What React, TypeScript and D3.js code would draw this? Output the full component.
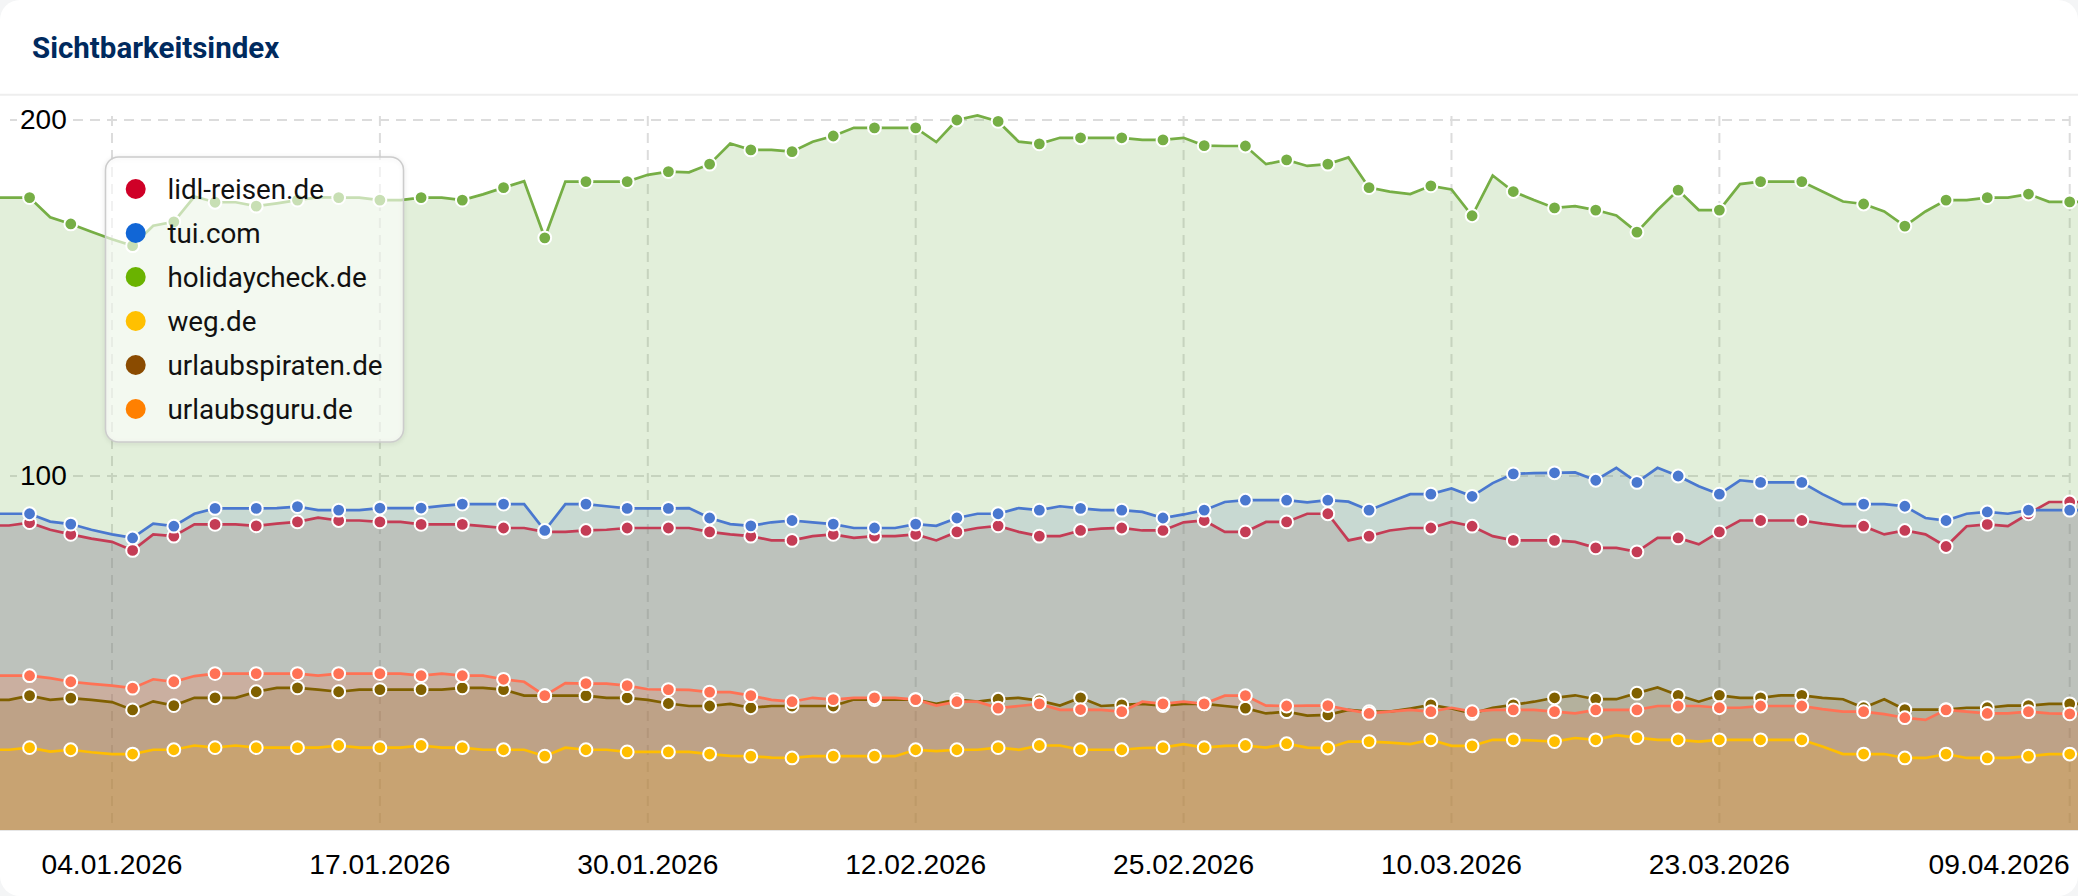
import React, { useRef, useEffect } from "react";
import * as d3 from "d3";

const WIDTH = 2078;
const HEIGHT = 896;

// one value per day, 29.12.2025 to 10.04.2026
const holidaycheck = [
  178.2, 178.2, 178.2, 172.7, 170.8, 168.6, 166.5, 164.7, 170.3, 171.4, 178.5, 176.9, 176.9, 175.8, 176.6, 177.5, 178.3,
  178.2, 178.2, 177.5, 177.5, 178.2, 178.2, 177.5, 179.1, 181, 182.8, 166.9, 182.7, 182.7, 182.7, 182.7, 184.6, 185.5,
  185.3, 187.6, 193.4, 191.6, 191.6, 191.1, 193.9, 195.5, 197.8, 197.8, 197.8, 197.8, 193.8, 200, 201.3, 199.6, 193.9,
  193.3, 195, 195, 195, 195, 194.4, 194.4, 195, 192.8, 192.7, 192.7, 187.6, 188.8, 187.1, 187.6, 189.5, 181, 179.9,
  179.2, 181.5, 180.5, 173.1, 184.4, 179.9, 177.5, 175.3, 175.8, 174.7, 173.2, 168.5, 174.7, 180.3, 174.7, 174.7, 182,
  182.7, 182.7, 182.7, 179.9, 177.1, 176.4, 174.3, 170.2, 174.3, 177.5, 177.5, 178.2, 178.2, 179.2, 177, 177, 177,
];
const tui = [
  89.4, 89.4, 89.4, 87.2, 86.5, 84.9, 83.6, 82.6, 86.6, 85.9, 89.4, 90.9, 90.9, 90.9, 91, 91.4, 90.4, 90.4, 90.4, 91,
  91, 91, 91.6, 92.1, 92.1, 92.1, 92.1, 84.7, 92.1, 92.1, 91.5, 90.9, 90.9, 90.9, 91, 88.2, 86.5, 86, 87, 87.5, 87,
  86.5, 85.4, 85.4, 85.4, 86.5, 86, 88.2, 89.4, 89.4, 91, 90.4, 91.5, 90.9, 90.4, 90.4, 89.9, 88.2, 89.2, 90.4, 92.7,
  93.2, 93.2, 93.2, 92.6, 93.2, 92.8, 90.4, 92.7, 94.9, 94.9, 96.5, 94.3, 98, 100.6, 100.8, 100.9, 101, 98.8, 102.3,
  98.2, 102.3, 100, 97.1, 94.9, 98.8, 98.2, 98.2, 98.2, 94.9, 92.1, 92.1, 92.1, 91.5, 88.2, 87.5, 89.4, 89.9, 89.4,
  90.4, 90.4, 90.4, 90.4,
];
const lidl = [
  86.1, 86.1, 86.9, 84.9, 83.6, 82.4, 81.5, 79.1, 83.6, 83.1, 86.4, 86.4, 86.4, 86, 86.6, 87.1, 88.3, 87.5, 87.5, 87.1,
  87.1, 86.4, 86.4, 86.4, 85.9, 85.4, 85.4, 84.3, 84.3, 84.7, 84.9, 85.4, 85.4, 85.4, 85.4, 84.3, 83.6, 83.1, 81.9,
  81.9, 83.1, 83.6, 82.6, 83.1, 83.1, 83.6, 81.9, 84.3, 85.4, 86, 84.3, 83.1, 83.1, 84.7, 85.2, 85.4, 84.7, 84.7, 87,
  87.5, 84.3, 84.3, 87.1, 87.1, 89.4, 89.4, 81.9, 83.1, 84.7, 85.4, 85.4, 87.1, 85.9, 83.1, 81.9, 81.9, 81.9, 81.5,
  79.8, 79.8, 78.7, 82.6, 82.6, 80.8, 84.3, 87.5, 87.5, 87.5, 87.5, 86.6, 85.9, 85.9, 83.6, 84.7, 83.6, 80.2, 85.9,
  86.4, 85.9, 89.4, 92.7, 92.7, 92.7,
];
const urlaubsguru = [
  43.9, 43.9, 43.9, 43.2, 42.2, 41.6, 41.1, 40.4, 42.9, 42.2, 43.8, 44.5, 44.5, 44.5, 44.5, 44.5, 43.9, 44.5, 44.5,
  44.5, 44.5, 43.9, 44.5, 43.9, 43.9, 42.9, 42.2, 38.3, 41.8, 41.7, 41.7, 41.1, 40.1, 40, 39.9, 39.3, 39.3, 38.3, 37.1,
  36.6, 37.7, 37.2, 37.7, 37.7, 37.7, 37.2, 35.5, 36.6, 36.6, 34.8, 35.4, 36, 34.3, 34.4, 34.3, 33.8, 36.6, 36, 36.6,
  36, 38.3, 38.3, 35.5, 35.4, 35.5, 35.5, 34.3, 33.3, 33.8, 34.3, 33.8, 34.9, 33.8, 34.3, 34.3, 34.3, 33.8, 33.3, 34.3,
  34.3, 34.3, 35.4, 35.4, 35.4, 34.9, 34.9, 35.4, 35.4, 35.4, 34.5, 33.8, 33.8, 33.1, 32.1, 31.5, 34.3, 33.8, 33.3,
  33.3, 33.8, 33.3, 33.2, 33.2,
];
const urlaubspiraten = [
  37.1, 37.1, 38.3, 37.1, 37.6, 37.1, 36.5, 34.3, 36.7, 35.5, 37.7, 37.7, 37.7, 39.4, 40.5, 40.5, 40, 39.4, 40, 40, 40,
  40, 40, 40.5, 40.5, 40, 38.3, 38.3, 38.3, 38.3, 37.7, 37.7, 37.1, 36.1, 35.4, 35.4, 36, 34.9, 35.4, 35.4, 35.4, 35.4,
  37.2, 37.2, 37.2, 37.2, 36, 37.2, 36.6, 37.3, 37.7, 36.9, 35.5, 37.7, 35.4, 35.7, 36, 35.5, 36, 36, 35.4, 34.8, 33.3,
  33.8, 32.7, 32.9, 34.3, 33.8, 33.8, 34.7, 35.7, 34.7, 33.3, 34.9, 35.7, 36.6, 37.7, 38.4, 37.3, 37.3, 39, 40.6, 38.4,
  36.6, 38.4, 37.7, 37.7, 38.4, 38.4, 37.7, 37.3, 34.9, 37.3, 34.4, 34.4, 34.4, 34.9, 34.9, 35.5, 35.5, 36, 36, 36,
];
const weg = [
  23.1, 23.1, 23.7, 22.6, 23.1, 22.4, 21.9, 21.9, 23.1, 23.1, 24.3, 23.7, 24.3, 23.7, 23.7, 23.7, 23.7, 24.3, 23.7,
  23.7, 23.7, 24.3, 23.7, 23.7, 23.1, 23.1, 23.1, 21.3, 23.7, 23.1, 23.1, 22.5, 22.5, 22.5, 22.5, 21.9, 21.4, 21.3,
  20.9, 20.8, 21.3, 21.3, 21.3, 21.3, 21.3, 23.1, 22.7, 23.1, 23.1, 23.7, 23.1, 24.3, 24.3, 23.1, 23.1, 23.1, 23.6,
  23.7, 24.7, 23.7, 24.2, 24.3, 23.7, 24.8, 23.7, 23.6, 25.4, 25.4, 25.1, 24.7, 25.9, 24.2, 24.2, 25.9, 25.9, 25.7,
  25.4, 26.4, 25.9, 27.2, 26.5, 25.9, 25.9, 25.4, 25.9, 25.9, 25.9, 25.9, 25.9, 24, 21.9, 21.9, 21.9, 20.8, 20.8, 21.9,
  20.8, 20.8, 20.8, 21.3, 21.9, 21.9, 21.9,
];

// positions in the daily arrays that carry a dot
const markerDays = [
  2, 4, 7, 9, 11, 13, 15, 17, 19, 21, 23, 25, 27, 29, 31, 33, 35, 37, 39, 41, 43, 45, 47, 49, 51, 53, 55, 57, 59, 61,
  63, 65, 67, 70, 72, 74, 76, 78, 80, 82, 84, 86, 88, 91, 93, 95, 97, 99, 101,
];

const xTicks = [
  "2026-01-04", "2026-01-17", "2026-01-30", "2026-02-12", "2026-02-25", "2026-03-10", "2026-03-23", "2026-04-09",
];
const yTicks = [100, 200];

const legendItems = [
  { name: "lidl-reisen.de", color: "#cf0027" },
  { name: "tui.com", color: "#1166d6" },
  { name: "holidaycheck.de", color: "#6ab300" },
  { name: "weg.de", color: "#ffc000" },
  { name: "urlaubspiraten.de", color: "#8a4b00" },
  { name: "urlaubsguru.de", color: "#ff8000" },
];

// areas are painted in this order, lines and dots in legend order
const areaSeries = [
  { values: holidaycheck, fill: "#70ad47" },
  { values: tui, fill: "#6581b2" },
  { values: lidl, fill: "#926b64" },
  { values: urlaubsguru, fill: "#ff6532" },
  { values: urlaubspiraten, fill: "#926c21" },
  { values: weg, fill: "#f0aa1c" },
];
const lineSeries = [
  { values: lidl, color: "#c43c55" },
  { values: tui, color: "#4a78cf" },
  { values: holidaycheck, color: "#76ae45" },
  { values: weg, color: "#ffbe00" },
  { values: urlaubspiraten, color: "#806000" },
  { values: urlaubsguru, color: "#ff7255" },
];

const dates = d3.utcDay.range(new Date(Date.UTC(2025, 11, 29)), new Date(Date.UTC(2026, 3, 11)));

function drawChart(svgElement: SVGSVGElement) {
  const svg = d3.select(svgElement);
  svg.selectAll("*").remove();

  const x = d3
    .scaleUtc()
    .domain([new Date(Date.UTC(2026, 0, 4)), new Date(Date.UTC(2026, 3, 9))])
    .range([112, 2069.7]);
  const y = d3.scaleLinear().domain([0, 200]).range([832, 120]);

  const PLOT_TOP = 96;
  const PLOT_BOTTOM = 830;
  const labelFont = "'Liberation Sans', Arial, sans-serif";

  // card
  svg.append("rect").attr("width", WIDTH).attr("height", HEIGHT).attr("fill", "#f4f5f6");
  svg.append("rect").attr("width", WIDTH).attr("height", HEIGHT).attr("rx", 20).attr("fill", "#fff");
  svg
    .append("line")
    .attr("x1", 0)
    .attr("x2", WIDTH)
    .attr("y1", 94.7)
    .attr("y2", 94.7)
    .attr("stroke", "#eeeeee")
    .attr("stroke-width", 2);
  svg
    .append("text")
    .attr("x", 32)
    .attr("y", 58)
    .attr("font-family", "Roboto, sans-serif")
    .attr("font-weight", 700)
    .attr("font-size", 29.5)
    .attr("fill", "#002a5e")
    .text("Sichtbarkeitsindex");

  svg
    .append("clipPath")
    .attr("id", "plot-clip")
    .append("rect")
    .attr("x", 0)
    .attr("y", PLOT_TOP)
    .attr("width", WIDTH)
    .attr("height", PLOT_BOTTOM - PLOT_TOP);

  // grid goes under the areas
  const grid = svg.append("g").attr("fill", "none").attr("stroke", "#dcdcdc").attr("stroke-width", 2);
  xTicks.forEach((t) => {
    const px = x(new Date(t + "T00:00:00Z"));
    grid
      .append("line")
      .attr("x1", px)
      .attr("x2", px)
      .attr("y1", 116)
      .attr("y2", PLOT_BOTTOM)
      .attr("stroke-dasharray", "10,7");
  });
  yTicks.forEach((t) => {
    // the label sits in a gap of the line
    grid.append("line").attr("x1", 10).attr("x2", 17).attr("y1", y(t)).attr("y2", y(t));
    grid
      .append("line")
      .attr("x1", 73)
      .attr("x2", 2070)
      .attr("y1", y(t))
      .attr("y2", y(t))
      .attr("stroke-dasharray", "10,7");
  });

  const plot = svg.append("g").attr("clip-path", "url(#plot-clip)");
  const area = d3
    .area<number>()
    .x((_, i) => x(dates[i]))
    .y0(y(0))
    .y1((d) => y(d));
  const line = d3
    .line<number>()
    .x((_, i) => x(dates[i]))
    .y((d) => y(d));

  areaSeries.forEach((s) => {
    plot.append("path").datum(s.values).attr("d", area).attr("fill", s.fill).attr("fill-opacity", 0.2);
  });
  lineSeries.forEach((s) => {
    plot
      .append("path")
      .datum(s.values)
      .attr("d", line)
      .attr("fill", "none")
      .attr("stroke", s.color)
      .attr("stroke-width", 2.7);
  });
  lineSeries.forEach((s) => {
    plot
      .append("g")
      .selectAll("circle")
      .data(markerDays)
      .enter()
      .append("circle")
      .attr("cx", (d) => x(dates[d]))
      .attr("cy", (d) => y(s.values[d]))
      .attr("r", 6.4)
      .attr("fill", s.color)
      .attr("stroke", "#fff")
      .attr("stroke-width", 2);
  });

  svg
    .append("line")
    .attr("x1", 0)
    .attr("x2", WIDTH)
    .attr("y1", PLOT_BOTTOM + 0.5)
    .attr("y2", PLOT_BOTTOM + 0.5)
    .attr("stroke", "#e6e6e6");

  // axis labels
  svg
    .append("g")
    .selectAll("text")
    .data(yTicks)
    .enter()
    .append("text")
    .attr("x", 20)
    .attr("y", (d) => y(d) + 9)
    .attr("font-family", labelFont)
    .attr("font-size", 28)
    .attr("fill", "#000")
    .text((d) => d);
  const dateFormat = d3.utcFormat("%d.%m.%Y");
  svg
    .append("g")
    .selectAll("text")
    .data(xTicks)
    .enter()
    .append("text")
    .attr("x", (d) => x(new Date(d + "T00:00:00Z")))
    .attr("y", 873.5)
    .attr("text-anchor", (_, i) => (i === xTicks.length - 1 ? "end" : "middle"))
    .attr("font-family", labelFont)
    .attr("font-size", 28.2)
    .attr("fill", "#000")
    .text((d) => dateFormat(new Date(d + "T00:00:00Z")));

  // legend, the shadow is only a blurred outline so it stays out of the see-through fill
  const legend = svg.append("g");
  legend
    .append("rect")
    .attr("x", 105.5)
    .attr("y", 158)
    .attr("width", 298)
    .attr("height", 285)
    .attr("rx", 13)
    .attr("fill", "none")
    .attr("stroke", "rgba(0,0,0,0.12)")
    .attr("stroke-width", 2)
    .style("filter", "blur(2px)");
  legend
    .append("rect")
    .attr("x", 105.5)
    .attr("y", 157)
    .attr("width", 298)
    .attr("height", 285)
    .attr("rx", 13)
    .attr("fill", "#fff")
    .attr("fill-opacity", 0.6)
    .attr("stroke", "#cccccc")
    .attr("stroke-width", 1.5);
  legendItems.forEach((item, i) => {
    legend
      .append("circle")
      .attr("cx", 135.7)
      .attr("cy", 189 + i * 44)
      .attr("r", 10)
      .attr("fill", item.color);
    legend
      .append("text")
      .attr("x", 167.4)
      .attr("y", 189 + i * 44 + 9.5)
      .attr("font-family", "Roboto, sans-serif")
      .attr("font-size", 27.8)
      .attr("fill", "#111")
      .text(item.name);
  });
}

const App: React.FunctionComponent = function () {
  const svgRef = useRef<SVGSVGElement>(null);

  useEffect(() => {
    if (svgRef.current == null) {
      return;
    }
    drawChart(svgRef.current);
  }, []);

  return (
    <svg
      ref={svgRef}
      width={WIDTH}
      height={HEIGHT}
      style={{ position: "absolute", left: 0, top: 0, display: "block" }}
    />
  );
};

export default App;
